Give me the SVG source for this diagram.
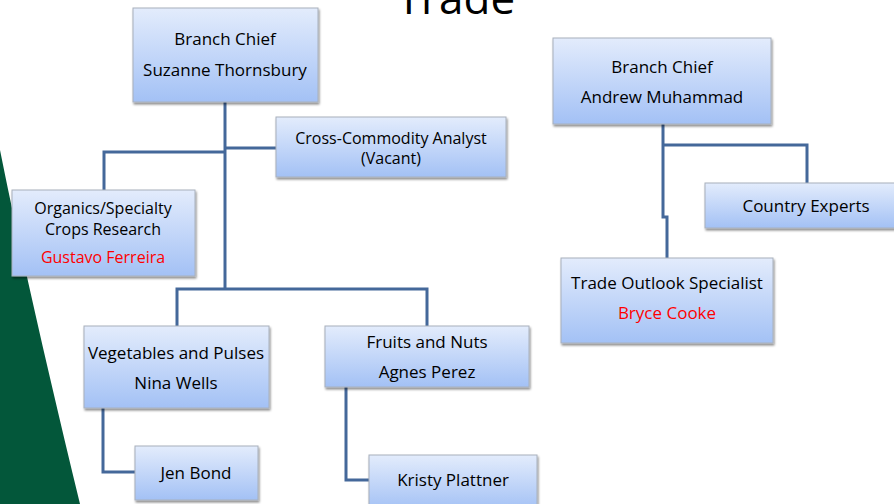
<svg xmlns="http://www.w3.org/2000/svg" width="894" height="504" viewBox="0 0 894 504">
<defs>
<linearGradient id="g" x1="0" y1="0" x2="0" y2="1">
<stop offset="0" stop-color="#e3ecfc"/>
<stop offset="1" stop-color="#a3c1f5"/>
</linearGradient>
<filter id="sh" x="-10%" y="-10%" width="120%" height="130%">
<feDropShadow dx="1" dy="2" stdDeviation="1.2" flood-color="#000" flood-opacity="0.45"/>
</filter>
</defs>
<style>
.box{fill:url(#g);stroke:#a8b0bc;stroke-width:1;filter:url(#sh)}
.t{font-family:"Open Sans","Liberation Sans",sans-serif;font-size:17px;fill:#000;text-anchor:middle}
.s{font-size:16px}
.r{fill:#ff0000}
.c{fill:none;stroke:#44689a;stroke-width:3}
</style>
<rect width="894" height="504" fill="#fff"/>
<path d="M0,150 C20,250 50,380 80,504 L0,504 Z" fill="#03573a"/>
<text x="456" y="14" font-family="'Open Sans','Liberation Sans',sans-serif" font-size="44" text-anchor="middle" fill="#000">Trade</text>
<g id="connectors">
<path class="c" d="M225,102 V289"/>
<path class="c" d="M225,152 H104 V190"/>
<path class="c" d="M225,148 H276"/>
<path class="c" d="M177,326 V289 H427 V326"/>
<path class="c" d="M103,408 V472 H135"/>
<path class="c" d="M346,387 V480 H369"/>
<path class="c" d="M663,124 V217 H667 V258"/>
<path class="c" d="M663,145 H807 V184"/>
</g>
<g id="suzanne">
<rect class="box" x="133" y="8" width="185" height="94"/>
<text class="t" x="225" y="45">Branch Chief</text>
<text class="t" x="225" y="76">Suzanne Thornsbury</text>
</g>
<g id="andrew">
<rect class="box" x="553" y="38" width="218" height="86"/>
<text class="t" x="662" y="73">Branch Chief</text>
<text class="t" x="662" y="103">Andrew Muhammad</text>
</g>
<g id="cross">
<rect class="box" x="276" y="117" width="230" height="60"/>
<text class="t s" x="391" y="144">Cross-Commodity Analyst</text>
<text class="t s" x="391" y="164">(Vacant)</text>
</g>
<g id="organics">
<rect class="box" x="12" y="190" width="183" height="86"/>
<text class="t s" x="103" y="214">Organics/Specialty</text>
<text class="t s" x="103" y="235">Crops Research</text>
<text class="t s r" x="103" y="263">Gustavo Ferreira</text>
</g>
<g id="country">
<rect class="box" x="705" y="183" width="195" height="45"/>
<text class="t" x="806" y="212">Country Experts</text>
</g>
<g id="tradeoutlook">
<rect class="box" x="561" y="258" width="212" height="85"/>
<text class="t" x="667" y="289">Trade Outlook Specialist</text>
<text class="t r" x="667" y="319">Bryce Cooke</text>
</g>
<g id="vegetables">
<rect class="box" x="84" y="326" width="185" height="82"/>
<text class="t" x="176" y="359">Vegetables and Pulses</text>
<text class="t" x="176" y="389">Nina Wells</text>
</g>
<g id="fruits">
<rect class="box" x="325" y="326" width="204" height="61"/>
<text class="t" x="427" y="348">Fruits and Nuts</text>
<text class="t" x="427" y="378">Agnes Perez</text>
</g>
<g id="jen">
<rect class="box" x="135" y="446" width="123" height="54"/>
<text class="t" x="196" y="479">Jen Bond</text>
</g>
<g id="kristy">
<rect class="box" x="369" y="455" width="168" height="55"/>
<text class="t" x="453" y="486">Kristy Plattner</text>
</g>
</svg>
